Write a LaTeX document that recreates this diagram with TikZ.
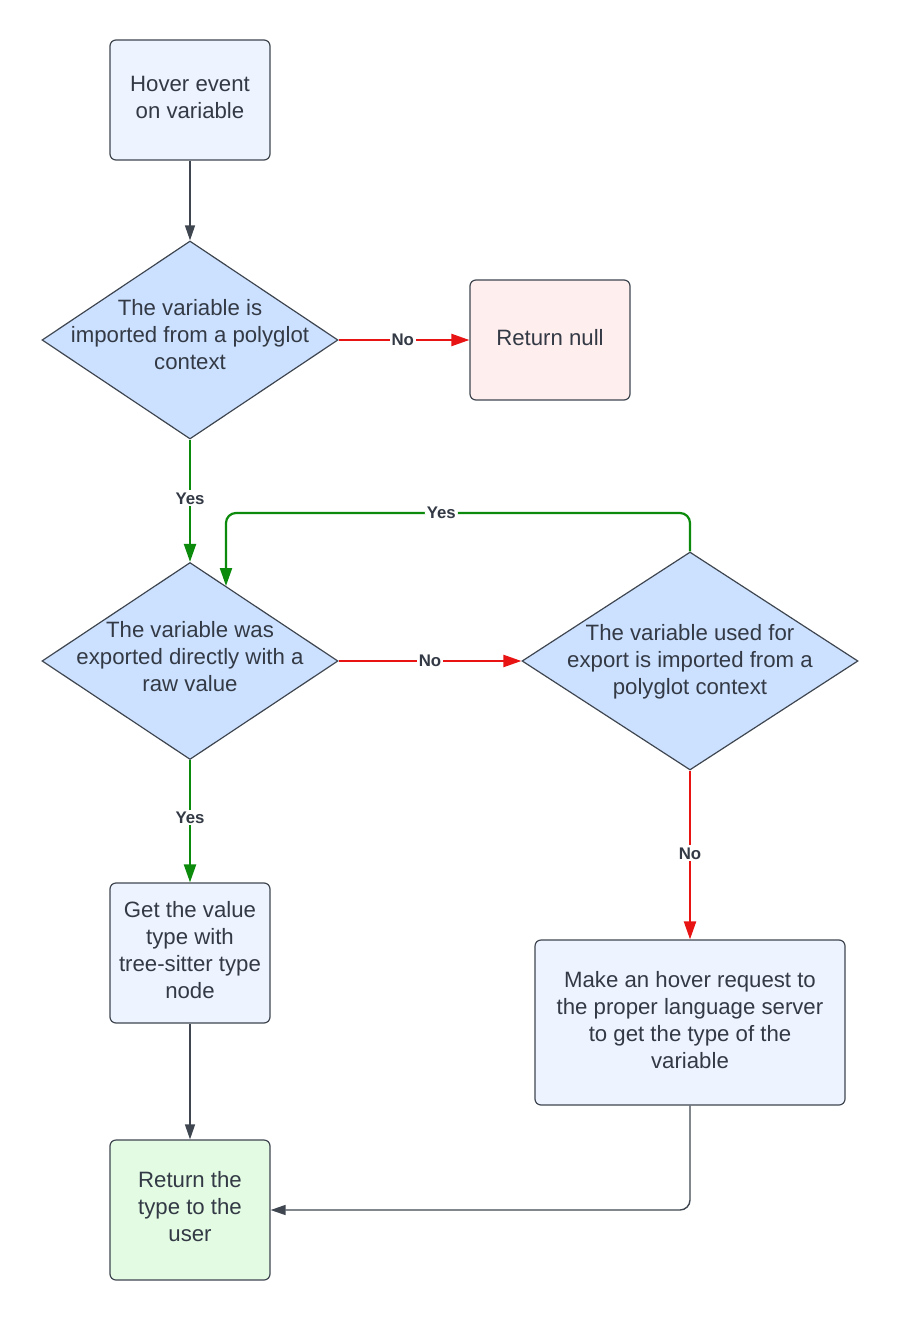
\documentclass[tikz,border=0pt]{standalone}
\usepackage{fontspec}
\setmainfont{Liberation Sans}
\usetikzlibrary{shapes.geometric,arrows.meta}
\definecolor{strokegray}{HTML}{3F4650}
\definecolor{inkgray}{HTML}{333A45}
\definecolor{boxblue}{HTML}{EDF4FF}
\definecolor{diablue}{HTML}{CCE1FF}
\definecolor{boxpink}{HTML}{FFEEEE}
\definecolor{boxgreen}{HTML}{E3FAE3}
\definecolor{nored}{HTML}{E81414}
\definecolor{yesgreen}{HTML}{0B8A0B}
\tikzset{
  procbox/.style={draw=strokegray, line width=0.6pt, rounded corners=3pt,
    fill=boxblue, inner sep=0pt},
  decision/.style={draw=strokegray, line width=0.6pt, diamond, fill=diablue,
    inner sep=0pt},
  boxtext/.style={align=center, text=inkgray, inner sep=0pt,
    font=\fontsize{11.1pt}{13.5pt}\selectfont},
  plainflow/.style={draw=strokegray, line width=0.7pt,
    -{Triangle[length=7.5pt,width=5pt]}},
  noflow/.style={draw=nored, line width=1.1pt,
    -{Triangle[length=9pt,width=6pt]}},
  yesflow/.style={draw=yesgreen, line width=1.1pt,
    -{Triangle[length=9pt,width=6pt]}},
  flowlabel/.style={fill=white, text=inkgray, inner sep=1pt,
    font=\fontsize{8.4pt}{9pt}\selectfont\bfseries},
}
\begin{document}
\begin{tikzpicture}[x=0.5pt,y=-0.5pt]
\useasboundingbox (0,0) rectangle (900,1320);

% process boxes
\node[procbox, minimum width=80pt, minimum height=60pt] (hover) at (190,100) {};
\node[boxtext, yshift=1.5pt] at (hover) {Hover event\\on variable};
\node[procbox, fill=boxpink, minimum width=80pt, minimum height=60pt] (null) at (550,340) {};
\node[boxtext, yshift=1pt] at (null) {Return null};
\node[procbox, minimum width=80pt, minimum height=70pt] (getval) at (190,953) {};
\node[boxtext, yshift=1.5pt] at (getval) {Get the value\\type with\\tree-sitter type\\node};
\node[procbox, minimum width=155pt, minimum height=82.5pt] (request) at (690,1022.5) {};
\node[boxtext, yshift=1.3pt] at (request)
  {Make an hover request to\\the proper language server\\to get the type of the\\variable};
\node[procbox, fill=boxgreen, minimum width=80pt, minimum height=70pt] (result) at (190,1210) {};
\node[boxtext, yshift=1.5pt] at (result) {Return the\\type to the\\user};

% decisions
\node[decision, minimum width=148pt, minimum height=99pt] (imported) at (190,340) {};
\node[boxtext, yshift=2.5pt] at (imported) {The variable is\\imported from a polyglot\\context};
\node[decision, minimum width=148pt, minimum height=98.5pt] (exported) at (190,661) {};
\node[boxtext, yshift=2pt] at (exported) {The variable was\\exported directly with a\\raw value};
\node[decision, minimum width=168pt, minimum height=109pt] (usedfor) at (690,661) {};
\node[boxtext, yshift=-0.3pt] at (usedfor) {The variable used for\\export is imported from a\\polyglot context};

% connectors
\coordinate (loopend) at (226,586);
\draw[plainflow] (hover) -- (imported);
\draw[noflow] (imported.east) -- node[flowlabel, pos=0.49] {No} (null.west);
\draw[yesflow] (imported.south) -- node[flowlabel, pos=0.48] {Yes} (exported.north);
\draw[noflow] (exported.east) -- node[flowlabel, pos=0.5] {No} (usedfor.west);
\draw[yesflow, rounded corners=5pt] (usedfor.north) |- (226,513)
  node[flowlabel, pos=0.768] {Yes} -- (loopend);
\draw[yesflow] (exported.south) -- node[flowlabel, pos=0.47] {Yes} (getval.north);
\draw[noflow] (usedfor.south) -- node[flowlabel, pos=0.49] {No} (request.north);
\draw[plainflow] (getval.south) -- (result.north);
\draw[plainflow, rounded corners=5pt] (request.south) |- (result.east);
\end{tikzpicture}
\end{document}
